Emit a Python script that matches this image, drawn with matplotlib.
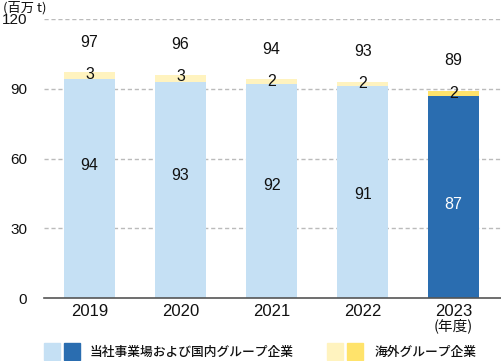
import matplotlib
matplotlib.use("Agg")
import matplotlib.pyplot as plt
from matplotlib.patches import Rectangle

plt.rcParams['font.family'] = ['Liberation Sans', 'Noto Sans CJK JP']

years = ['2019', '2020', '2021', '2022', '2023']
domestic = [94, 93, 92, 91, 87]
overseas = [3, 3, 2, 2, 2]
totals = [97, 96, 94, 93, 89]
yticks = [0, 30, 60, 90, 120]

dom_colors = ['#c5e0f4'] * 4 + ['#2a6db0']
ovs_colors = ['#fff3bf'] * 4 + ['#ffe36b']
ink = '#111111'

fig = plt.figure(figsize=(5.01, 3.61), dpi=100)
ax = fig.add_axes([44 / 501, 1 - 298 / 361, 1 - 44 / 501, (298 - 19) / 361])

x = list(range(len(years)))
ax.bar(x, domestic, width=0.56, color=dom_colors, zorder=2)
ax.bar(x, overseas, width=0.56, bottom=domestic, color=ovs_colors, zorder=2)

for i in x:
    top = domestic[i] + overseas[i]
    ax.text(i, 57 - 4.2 * i, str(domestic[i]), ha='center', va='center', fontsize=11.5,
            color='white' if i == 4 else ink, zorder=3)
    ax.text(i, top - 0.9, str(overseas[i]), ha='center', va='center', fontsize=11.5,
            color=ink, zorder=3)
    ax.text(i, top + 13, str(totals[i]), ha='center', va='center', fontsize=11.5,
            color=ink, zorder=3)

ax.set_xlim(-0.5, 4.52)
ax.set_ylim(0, 120)
ax.set_yticks(yticks)
ax.set_yticklabels([str(v) for v in yticks], fontsize=11, color=ink)
ax.set_xticks(x)
ax.set_xticklabels(years, fontsize=12, color=ink)
ax.tick_params(axis='x', length=0, pad=4)
ax.tick_params(axis='y', length=0, pad=12)
for v in yticks[1:]:
    ax.axhline(v, color='#bbbbbb', lw=1, ls=(0, (3, 2)), zorder=1)
for s in ['top', 'right', 'left']:
    ax.spines[s].set_visible(False)
ax.spines['bottom'].set_color('#555555')
ax.spines['bottom'].set_linewidth(1.2)

ax.text(4, -11.8, '(年度)', ha='center', va='center', fontsize=10.5, color=ink,
        family=['Noto Sans CJK JP', 'DejaVu Sans'])
fig.text(3 / 501, 1 - 8 / 361, '(百万 t)', ha='left', va='center', fontsize=9.5,
         color=ink, family=['Noto Sans CJK JP', 'DejaVu Sans'])

# legend
def swatch(px, color):
    fig.patches.append(Rectangle((px / 501, 1 - 360 / 361), 16 / 501, 17 / 361,
                                 transform=fig.transFigure, color=color))

swatch(44, '#c5e0f4')
swatch(64, '#2a6db0')
fig.text(90 / 501, 1 - 352 / 361, '当社事業場および国内グループ企業', va='center',
         fontsize=9.2, fontweight='medium', color=ink, family=['Noto Sans CJK JP', 'DejaVu Sans'])
swatch(327, '#fff3bf')
swatch(347, '#ffe36b')
fig.text(375 / 501, 1 - 352 / 361, '海外グループ企業', va='center',
         fontsize=9.2, fontweight='medium', color=ink, family=['Noto Sans CJK JP', 'DejaVu Sans'])

fig.savefig('out.png', dpi=100)
